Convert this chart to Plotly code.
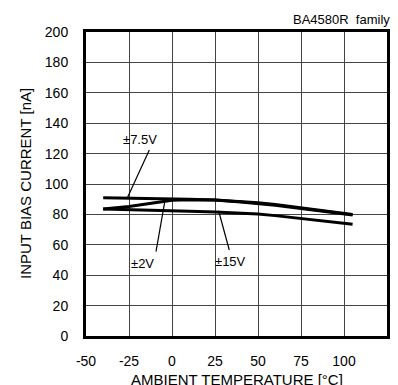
import plotly.graph_objects as go

FONT = "Liberation Sans, Arial, sans-serif"

# temperature [degC] and input bias current [nA] per supply voltage
temp = [-40, -25, -10, 0, 10, 25, 40, 50, 60, 75, 90, 105]
ib_7v5 = [91.0, 90.8, 90.4, 90.1, 89.9, 89.5, 88.5, 87.6, 86.5, 84.2, 82.0, 80.0]
ib_2v = [83.5, 85.2, 87.6, 89.3, 89.6, 89.4, 88.2, 87.2, 86.0, 83.9, 81.8, 79.6]
ib_15v = [83.5, 83.2, 82.8, 82.5, 82.1, 81.5, 80.8, 80.2, 79.2, 77.3, 75.4, 73.5]

x_ticks = [-50, -25, 0, 25, 50, 75, 100, 125]
y_ticks = [0, 20, 40, 60, 80, 100, 120, 140, 160, 180, 200]

# label text, text position, leader line start -> end
labels = [
    ("±7.5V", -18.6, 129.0, (-13.2, 122.4), (-26.0, 90.8)),
    ("±2V", -16.9, 48.0, (-9.3, 55.5), (-4.1, 89.0)),
    ("±15V", 34.0, 49.3, (33.3, 56.6), (27.1, 82.4)),
]

fig = go.Figure()
for ys in (ib_15v, ib_2v, ib_7v5):
    fig.add_trace(go.Scatter(x=temp, y=ys, mode="lines", line={"color": "black", "width": 3}, showlegend=False))

for text, tx, ty, (x0, y0), (x1, y1) in labels:
    fig.add_shape(type="line", x0=x0, y0=y0, x1=x1, y1=y1, xref="x", yref="y", line={"color": "black", "width": 1.2})
    fig.add_annotation(x=tx, y=ty, text=text, showarrow=False, font={"size": 13, "color": "black", "family": FONT})

fig.add_annotation(x=1, y=1, xref="paper", yref="paper", xanchor="right", yanchor="bottom", xshift=5, yshift=3,
                   text="BA4580R  family", showarrow=False, font={"size": 13, "color": "black", "family": FONT})
fig.add_annotation(x=0.5, y=0, xref="paper", yref="paper", yanchor="top", yshift=-33,
                   text="AMBIENT TEMPERATURE [°C]", showarrow=False, font={"size": 15, "color": "black", "family": FONT})
fig.add_annotation(x=0, y=0.5, xref="paper", yref="paper", xanchor="center", xshift=-61, textangle=-90,
                   text="INPUT BIAS CURRENT [nA]", showarrow=False, font={"size": 15, "color": "black", "family": FONT})

# page body has an 8px margin, so the figure is a bit smaller than the window
fig.update_layout(
    width=390,
    height=377,
    margin={"l": 78, "r": 8, "t": 24, "b": 49},
    paper_bgcolor="white",
    plot_bgcolor="white",
    font={"family": FONT, "size": 14, "color": "black"},
)
fig.update_xaxes(
    range=[-50, 125], tickvals=x_ticks, ticktext=[str(v) for v in x_ticks],
    showgrid=True, gridcolor="#444", gridwidth=1, zeroline=False,
    showline=True, linecolor="black", linewidth=3, mirror=True,
    ticks="", ticklabelstandoff=10,
)
fig.update_yaxes(
    range=[0, 200], tickvals=y_ticks,
    showgrid=True, gridcolor="#444", gridwidth=1, zeroline=False,
    showline=True, linecolor="black", linewidth=3, mirror=True,
    ticks="", ticklabelstandoff=12,
)

fig.write_html("out.html")
